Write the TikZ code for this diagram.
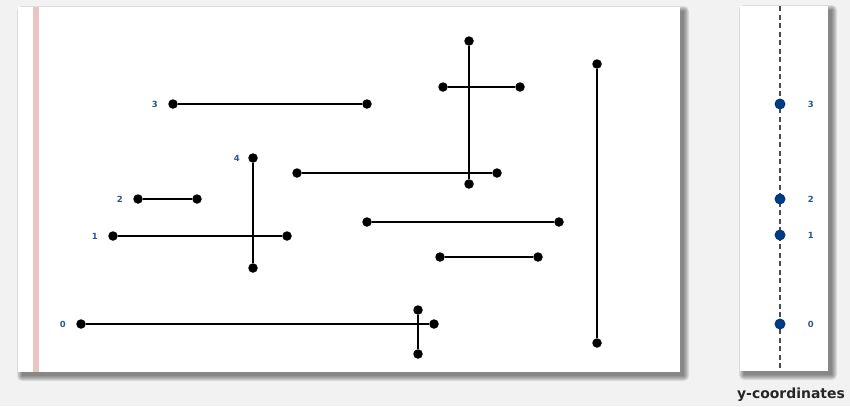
\documentclass[tikz,border=0pt]{standalone}
\usepackage{fontspec}
\setmainfont{DejaVu Sans}
\usetikzlibrary{positioning}
\definecolor{pagebg}{HTML}{F2F2F2}
\definecolor{stripe}{HTML}{EBC4C4}
\definecolor{numblue}{HTML}{2A5699}
\definecolor{dotblue}{HTML}{003A80}
\tikzset{
  panel/.style = {fill=white, draw=none},
  haze/.style  = {fill=black, opacity=0.09},
  dot/.style   = {circle, fill=black, inner sep=0pt, minimum size=9.5bp},
  ydot/.style  = {circle, fill=dotblue, inner sep=0pt, minimum size=11bp},
  seg/.style   = {line width=2bp, black},
  num/.style   = {font=\fontsize{8.5}{9}\selectfont\bfseries, text=numblue,
                  inner sep=0pt},
  caption/.style = {font=\fontsize{14}{16}\selectfont\bfseries, text=black!85}
}
% soft shadow behind a panel: x1,y1,x2,y2
\newcommand{\softshadow}[4]{%
  \foreach \r in {0,...,5}
    \fill[haze, rounded corners=\r bp] (#1+4-\r,#2+4-\r) rectangle (#3+4+\r,#4+4+\r);}

\begin{document}
\begin{tikzpicture}[x=1bp, y=-1bp, node distance=10bp]
  \fill[pagebg] (0,0) rectangle (850,406);
  \useasboundingbox (0,0) rectangle (850,406);

  % segments panel
  \softshadow{18}{7}{680}{372}
  \path[panel] (18,7) rectangle (680,372);
  \fill[stripe] (33,7) rectangle (39,372);

  % horizontal segments
  \node[dot] (h0a) at (81,324) {};  \node[dot] (h0b) at (434,324) {};
  \node[dot] (h1a) at (113,236) {}; \node[dot] (h1b) at (287,236) {};
  \node[dot] (h2a) at (138,199) {}; \node[dot] (h2b) at (197,199) {};
  \node[dot] (h3a) at (173,104) {}; \node[dot] (h3b) at (367,104) {};
  \node[dot] (hpa) at (297,173) {}; \node[dot] (hpb) at (497,173) {};
  \node[dot] (hqa) at (443,87) {};  \node[dot] (hqb) at (520,87) {};
  \node[dot] (hra) at (367,222) {}; \node[dot] (hrb) at (559,222) {};
  \node[dot] (hsa) at (440,257) {}; \node[dot] (hsb) at (538,257) {};
  % vertical segments
  \node[dot] (v4a) at (253,158) {}; \node[dot] (v4b) at (253,268) {};
  \node[dot] (vta) at (469,41) {};  \node[dot] (vtb) at (469,184) {};
  \node[dot] (vra) at (597,64) {};  \node[dot] (vrb) at (597,343) {};
  \node[dot] (vba) at (418,310) {}; \node[dot] (vbb) at (418,354) {};

  \foreach \s in {h0,h1,h2,h3,hp,hq,hr,hs,v4,vt,vr,vb}
    \draw[seg] (\s a) -- (\s b);

  \node[num, left=of h0a] (n0) {0};
  \node[num, left=of h1a] (n1) {1};
  \node[num, left=of h2a] (n2) {2};
  \node[num, left=of h3a] (n3) {3};
  \node[num, left=8bp of v4a] (n4) {4};

  % y-coordinates panel
  \softshadow{740}{6}{828}{371}
  \path[panel] (740,6) rectangle (828,371);
  \coordinate (ytop) at (780,6);
  \coordinate (ybot) at (780,371);
  \draw[black!70, line width=1.1bp, dash pattern=on 5bp off 3.5bp] (ytop) -- (ybot);
  \node[ydot] (y0) at (780,324) {};
  \node[ydot] (y1) at (780,235) {};
  \node[ydot] (y2) at (780,199) {};
  \node[ydot] (y3) at (780,104) {};
  \foreach \i in {0,...,3}
    \node[num, right=22bp of y\i] (m\i) {\i};

  \node[caption] (cap) at (791,395) {y-coordinates};
\end{tikzpicture}
\end{document}
